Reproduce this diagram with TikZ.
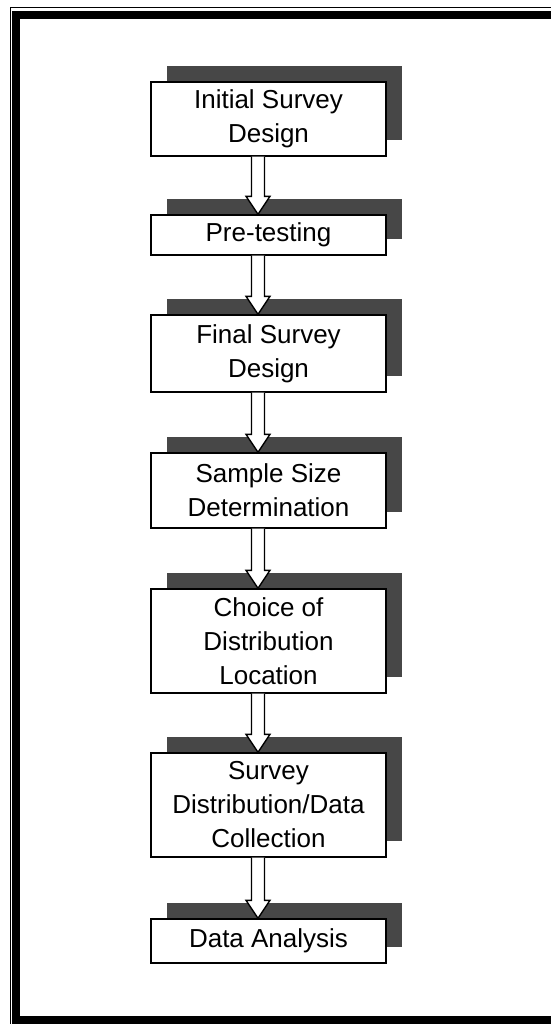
\documentclass[tikz,border=0pt]{standalone}
\usepackage{fontspec}
\setmainfont{Liberation Sans}
\usetikzlibrary{calc,shadows}

\begin{document}
\begin{tikzpicture}[
  x=0.5pt, y=-0.5pt,
  stage/.style={draw,fill=white,line width=0.7pt,minimum width=117.5pt,
    minimum height=#1,align=center,inner sep=0pt,
    font=\fontsize{13}{17}\selectfont,
    drop shadow={shadow xshift=8pt,shadow yshift=8pt,fill=black!72,opacity=1}},
  flow/.style={draw,fill=white,line width=0.7pt},
]
  \useasboundingbox (0,0) rectangle (551,1024);
  \clip (0,0) rectangle (551,1024);
  % page frame
  \draw[line width=0.5pt] (10,7) rectangle (600,1060);
  \draw[line width=4pt] (16,15) rectangle (600,1020);

  \node[stage=37pt] (init) at (268.5,119) {Initial Survey\\Design};
  \node[stage=20pt] (pretest) at (268.5,235) {Pre-testing};
  \node[stage=38.5pt] (final) at (268.5,353.5) {Final Survey\\Design};
  \node[stage=37.5pt] (sample) at (268.5,490.5) {Sample Size\\Determination};
  \node[stage=52pt] (choice) at (268.5,641) {Choice of\\Distribution\\Location};
  \node[stage=52pt] (collect) at (268.5,805) {Survey\\Distribution/Data\\Collection};
  \node[stage=22pt] (analysis) at (268.5,941) {Data Analysis};

  \foreach \a/\b in {init/pretest,pretest/final,final/sample,sample/choice,
      choice/collect,collect/analysis}
    \draw[flow] let \p1=(\a.south), \p2=(\b.north) in
      (\x1-8.5pt,\y1) -- (\x1-8.5pt,\y2+9pt) -- (\x1-11.25pt,\y2+9pt)
      -- (\x1-5.25pt,\y2) -- (\x1+0.75pt,\y2+9pt) -- (\x1-2pt,\y2+9pt)
      -- (\x1-2pt,\y1);
\end{tikzpicture}
\end{document}
